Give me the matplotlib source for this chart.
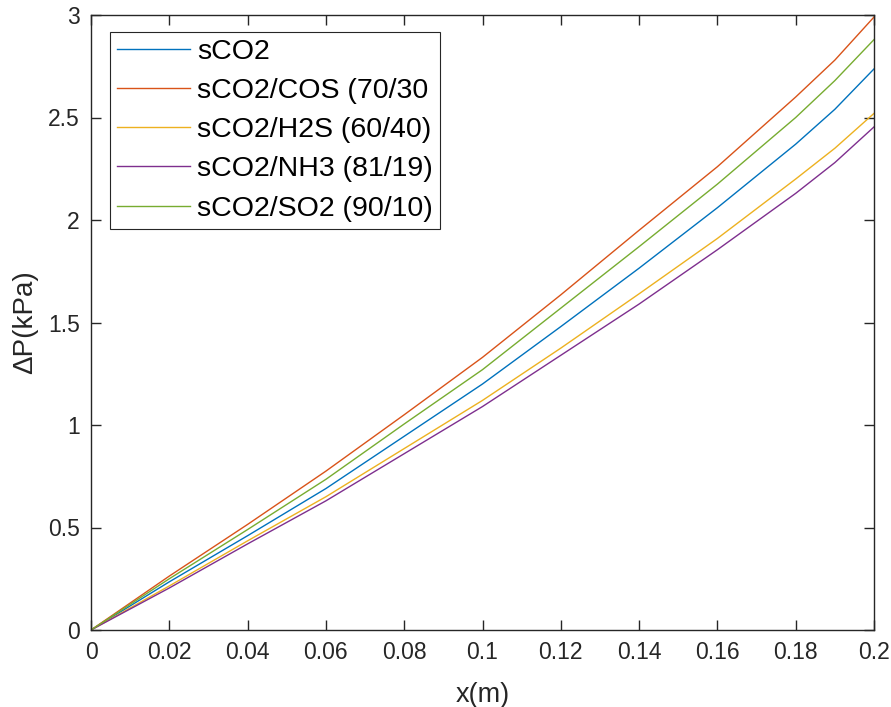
import matplotlib
matplotlib.use("Agg")
import matplotlib.pyplot as plt

plt.rcParams['font.family'] = ['Liberation Sans', 'DejaVu Sans']

# Position along the channel (m)
x = [0.0, 0.02, 0.04, 0.06, 0.08, 0.10, 0.12, 0.14, 0.16, 0.18, 0.19, 0.20]

# Pressure drop (kPa) for each working fluid
dp_sco2 = [0.0, 0.235, 0.46, 0.69, 0.945, 1.20, 1.48, 1.765, 2.06, 2.37, 2.54, 2.737]
dp_cos = [0.0, 0.263, 0.515, 0.775, 1.05, 1.33, 1.635, 1.95, 2.26, 2.60, 2.78, 2.99]
dp_h2s = [0.0, 0.215, 0.435, 0.65, 0.885, 1.12, 1.375, 1.64, 1.91, 2.20, 2.35, 2.52]
dp_nh3 = [0.0, 0.205, 0.42, 0.63, 0.86, 1.09, 1.34, 1.59, 1.855, 2.13, 2.28, 2.454]
dp_so2 = [0.0, 0.25, 0.49, 0.735, 1.005, 1.27, 1.57, 1.87, 2.175, 2.50, 2.68, 2.88]

labels = ['sCO2', 'sCO2/COS (70/30', 'sCO2/H2S (60/40)',
          'sCO2/NH3 (81/19)', 'sCO2/SO2 (90/10)']

x_ticks = [0, 0.02, 0.04, 0.06, 0.08, 0.1, 0.12, 0.14, 0.16, 0.18, 0.2]
x_tick_labels = ['0', '0.02', '0.04', '0.06', '0.08', '0.1', '0.12',
                 '0.14', '0.16', '0.18', '0.2']
y_ticks = [0, 0.5, 1, 1.5, 2, 2.5, 3]
y_tick_labels = ['0', '0.5', '1', '1.5', '2', '2.5', '3']

colors = ['#0072BD', '#D95319', '#EDB120', '#7E2F8E', '#77AC30']
series = [dp_sco2, dp_cos, dp_h2s, dp_nh3, dp_so2]

fig = plt.figure(figsize=(8.91, 7.07), dpi=100)
ax = fig.add_axes([91 / 891, 1 - 630 / 707, (874 - 91) / 891, (630 - 15) / 707])

for y, c, lab in zip(series, colors, labels):
    ax.plot(x, y, color=c, lw=1.0, label=lab)

ax.set_xlim(0, 0.2)
ax.set_ylim(0, 3)
ax.set_xticks(x_ticks)
ax.set_xticklabels(x_tick_labels)
ax.set_yticks(y_ticks)
ax.set_yticklabels(y_tick_labels)

dark = '#262626'
for s in ax.spines.values():
    s.set_color(dark)
    s.set_linewidth(1.0)
ax.tick_params(direction='in', length=7, width=1.0, color=dark,
               labelcolor=dark, labelsize=16.5, top=True, right=True, pad=8)

ax.set_xlabel('x(m)', fontsize=19.5, color=dark, labelpad=13)
ax.set_ylabel('ΔP(kPa)', fontsize=20, color=dark, labelpad=7)

leg = ax.legend(loc='upper left', bbox_to_anchor=(19 / 783, 1 - 17 / 615),
                fontsize=20.5, frameon=True, fancybox=False,
                borderpad=0.25, handlelength=2.55, handletextpad=0.25,
                labelspacing=0.46, borderaxespad=0)
leg.get_frame().set_edgecolor(dark)
leg.get_frame().set_linewidth(0.8)
leg.get_frame().set_alpha(1.0)

fig.savefig('out.png', dpi=100)
